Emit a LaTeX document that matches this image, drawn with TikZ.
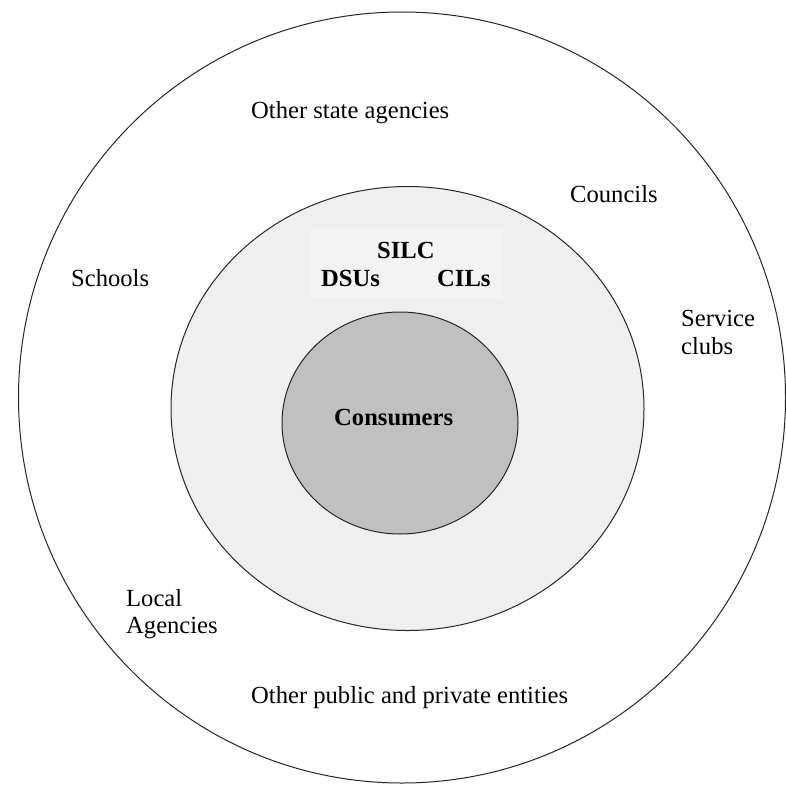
\documentclass[tikz,border=0pt]{standalone}
\usepackage{fontspec}
\setmainfont{Liberation Serif}
\usetikzlibrary{shapes.geometric}
\definecolor{midgray}{HTML}{EFEFEF}
\definecolor{boxgray}{HTML}{F3F3F3}
\definecolor{innergray}{HTML}{C0C0C0}
\tikzset{
  ring/.style={ellipse, draw=black!85, line width=1pt, inner sep=0pt},
  lbl/.style={inner sep=0pt, font=\fontsize{24.6}{27.5}\selectfont, anchor=base west},
  mlbl/.style={inner sep=0pt, font=\fontsize{24.6}{27.5}\selectfont, anchor=north west, align=left},
  blbl/.style={lbl, font=\fontsize{24.6}{27.5}\selectfont\bfseries}
}
\begin{document}
\begin{tikzpicture}[x=1pt,y=-1pt]
\useasboundingbox[fill=white] (0,0) rectangle (786,784);
\node[ring, fill=white, minimum width=767pt, minimum height=771pt] (outer) at (402,397.5) {};
\node[ring, fill=midgray, minimum width=473pt, minimum height=444pt] (middle) at (407.5,408.5) {};
\fill[boxgray] (310,229) rectangle (502,298);
\node[ring, fill=innergray, minimum width=236pt, minimum height=222pt] (inner) at (400,423) {};
\node[lbl] (osa) at (251,118) {Other state agencies};
\node[lbl] (councils) at (570,202) {Councils};
\node[lbl] (schools) at (71,286) {Schools};
\node[blbl] (silc) at (377,258) {SILC};
\node[blbl] (dsus) at (321,286) {DSUs};
\node[blbl] (cils) at (437,286) {CILs};
\node[mlbl] (service) at (681,310.5) {Service\\clubs};
\node[blbl] (consumers) at (334,425) {Consumers};
\node[mlbl] (local) at (126,589) {Local\\Agencies};
\node[lbl] (oppe) at (251,703) {Other public and private entities};
\end{tikzpicture}
\end{document}
